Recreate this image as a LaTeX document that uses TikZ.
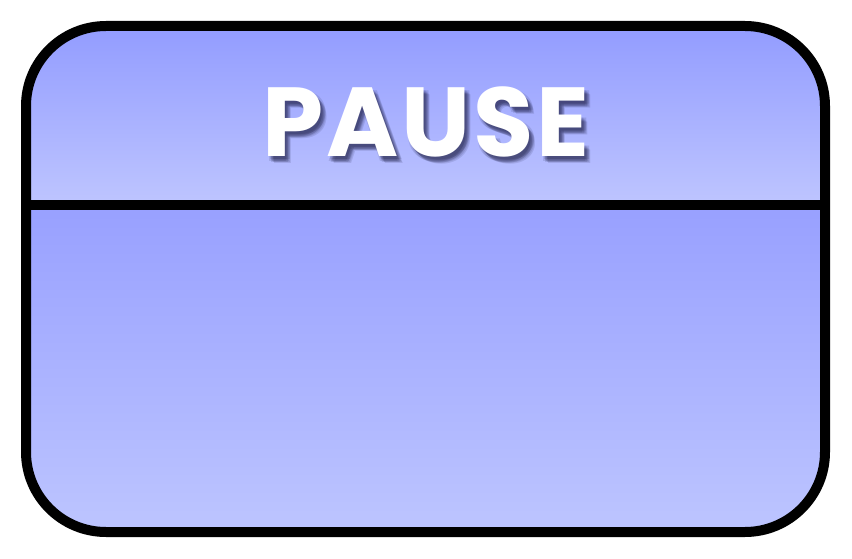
\documentclass[tikz,border=0pt]{standalone}
\usepackage{fontspec}
\setmainfont{Poppins}
\newfontfamily\titlefont[LetterSpace=3]{Poppins}
\usetikzlibrary{positioning}
\definecolor{HeadTop}{HTML}{8C96FF}
\definecolor{HeadBot}{HTML}{BEC5FF}
\definecolor{BodyTop}{HTML}{98A0FF}
\definecolor{BodyBot}{HTML}{C0C8FF}
\definecolor{Shade}{HTML}{14143A}

\begin{document}
\begin{tikzpicture}[
  x=1pt,y=-1pt,
  frame/.style={line width=10pt,draw=black,rounded corners=80pt},
  rule/.style={line width=10pt,draw=black},
  title/.style={font=\titlefont\fontsize{98}{98}\selectfont\bfseries,text=white,inner sep=0pt},
  glow/.style={title,text=Shade,opacity=0.12}
]
\useasboundingbox (0,0) rectangle (852,559);
% fills
\begin{scope}
  \clip[rounded corners=80pt] (26,26) rectangle (825,532);
  \shade[top color=HeadTop,bottom color=HeadBot] (0,0) rectangle (852,205);
  \shade[top color=BodyTop,bottom color=BodyBot] (0,205) rectangle (852,559);
\end{scope}
% outline and divider
\coordinate (divL) at (26,205);
\coordinate (divR) at (825,205);
\draw[frame] (26,26) rectangle (825,532);
\draw[rule] (divL) -- (divR);
% title with soft shadow
\foreach \dx/\dy [count=\i] in {2/3,4/5,3/4,5/3,3/6,1/5,5/6,6/7}
  \node[glow] (shadow\i) at (426+\dx,122+\dy) {PAUSE};
\node[title] (name) at (426,122) {PAUSE};
\end{tikzpicture}
\end{document}
